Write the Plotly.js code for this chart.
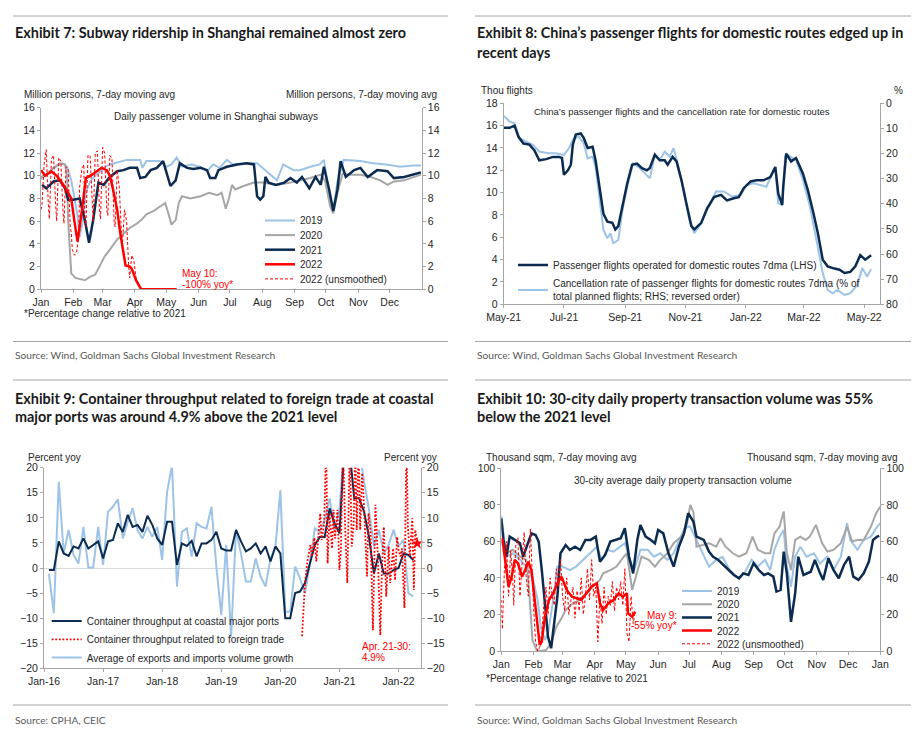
<!DOCTYPE html>
<html><head><meta charset="utf-8">
<script src="https://cdn.plot.ly/plotly-3.0.1.min.js"></script>
<style>html,body{margin:0;padding:0;background:#fff;}#chart{width:914px;height:741px;}</style>
</head><body><div id="chart"></div>
<script>
// ---------- Exhibit 7: Shanghai subway (million persons, 7dma), x = day of year ----------
const monthDays = [1,32,60,91,121,152,182,213,244,274,305,335];
const monthNames = ['Jan','Feb','Mar','Apr','May','Jun','Jul','Aug','Sep','Oct','Nov','Dec'];

const sub2019Day = [1,6,12,17,22,26,30,33,36,38,41,44,48,53,58,63,67,75,83,90,96,98,102,115,121,126,131,136,145,153,160,166,172,179,185,198,208,217,227,233,243,249,259,268,272,278,281,285,291,307,319,332,345,358,365];
const sub2019Val = [9.7,10.2,10.6,10.9,11.1,10.8,9.6,8.2,6.5,4.6,6.0,8.5,9.5,10.0,10.4,10.8,11.0,11.2,11.4,11.4,11.4,10.7,11.3,11.3,10.8,11.0,11.6,10.8,11.0,10.8,10.4,11.0,10.7,11.4,11.0,11.1,11.1,10.4,9.6,11.0,10.5,10.5,10.8,11.0,11.4,8.0,7.0,9.5,11.4,11.3,11.1,11.0,10.8,10.9,10.9];

const sub2020Day = [1,6,13,19,24,26,27,29,30,34,38,43,48,53,57,62,67,74,80,86,93,97,102,109,115,120,123,126,130,133,136,144,154,162,170,174,178,181,184,187,195,205,214,227,240,249,259,269,273,278,281,285,290,298,307,317,326,333,339,349,358,365];
const sub2020Val = [9.9,10.1,10.7,11.1,11.0,9.9,6.1,2.9,1.4,1.0,0.9,0.8,1.1,1.3,2.0,2.9,3.5,4.4,4.9,5.4,5.8,6.1,6.6,6.9,7.3,7.6,6.7,5.7,6.1,7.6,8.2,8.0,8.2,8.5,8.3,8.5,7.1,8.0,9.2,8.8,9.1,9.4,9.4,9.2,9.4,9.6,9.8,10.1,9.6,7.3,6.7,8.5,10.2,10.1,10.1,9.9,9.6,9.2,9.5,9.6,9.9,10.1];

const sub2021Day = [2,6,13,19,24,27,32,38,43,47,51,53,56,61,67,74,80,86,93,96,101,106,112,118,123,125,130,134,141,147,154,160,163,168,171,179,189,198,205,208,211,214,216,219,226,234,240,246,251,258,264,269,272,277,281,285,288,293,301,307,314,323,333,339,349,358,365];
const sub2021Val = [9.2,8.9,9.5,9.6,8.9,7.9,7.9,8.0,6.1,4.1,6.1,7.3,9.4,9.2,9.9,10.4,10.5,10.7,10.7,9.8,9.9,10.5,10.7,11.3,9.6,9.1,9.6,11.1,10.7,10.6,10.7,10.5,9.8,9.8,10.5,10.8,11.0,11.1,11.0,8.2,7.9,8.2,9.9,9.4,9.2,9.4,9.8,9.4,9.9,8.9,9.9,9.2,10.8,8.8,6.9,8.8,11.3,9.9,10.5,10.7,9.9,10.5,10.4,9.8,9.9,10.1,10.3];

const sub2022Day = [1,5,11,17,24,30,33,36,40,44,50,54,59,64,67,70,74,77,80,82,86,88,92,97,105,115,125,131];
const sub2022Val = [10.5,10.0,10.4,9.9,9.0,8.0,6.0,4.2,6.8,9.8,10.1,10.4,10.7,10.5,10.0,8.8,7.0,4.9,3.0,2.1,2.0,1.8,0.8,0,0,0,0,0];

const sub2022RawDay = [1,2,4,6,8,9,11,13,15,16,18,20,22,23,25,27,29,30,31,33,35,37,38,40,42,43,44,46,48,50,51,53,55,57,58,60,62,64,65,67,69,71,72,74,76,78,79,81,83,85,86,88,90,92,94,96,98];
const sub2022RawVal = [7.0,7.5,11.0,12.3,7.5,6.2,11.5,11.8,7.5,6.0,11.6,11.3,7.0,5.8,10.8,10.6,5.5,5.0,3.5,3.0,3.3,4.5,9.0,10.5,11.0,6.5,5.5,11.8,11.8,6.8,6.0,12.0,12.2,7.0,6.2,12.5,12.0,7.0,6.5,11.8,11.5,6.0,5.5,10.5,9.0,5.0,4.0,7.0,6.0,2.0,1.0,3.0,2.5,1.0,0.5,0.1,0];

// ---------- Exhibit 8: domestic flights (thousand) and cancellation rate (%) ----------
const flightTickVals = ['2021-05-01','2021-07-01','2021-09-01','2021-11-01','2022-01-01','2022-03-01','2022-05-01'];
const flightTickText = ['May-21','Jul-21','Sep-21','Nov-21','Jan-22','Mar-22','May-22'];

const flightDate = ['2021-05-01','2021-05-07','2021-05-12','2021-05-16','2021-05-21','2021-05-27','2021-06-01','2021-06-06','2021-06-13','2021-06-20','2021-06-26','2021-06-29','2021-07-01','2021-07-05','2021-07-08','2021-07-10','2021-07-13','2021-07-18','2021-07-21','2021-07-25','2021-07-30','2021-08-02','2021-08-07','2021-08-10','2021-08-14','2021-08-19','2021-08-22','2021-08-25','2021-08-29','2021-09-03','2021-09-08','2021-09-13','2021-09-18','2021-09-23','2021-09-26','2021-10-01','2021-10-06','2021-10-11','2021-10-14','2021-10-19','2021-10-23','2021-10-28','2021-11-02','2021-11-07','2021-11-10','2021-11-17','2021-11-23','2021-11-30','2021-12-07','2021-12-13','2021-12-20','2021-12-25','2021-12-30','2022-01-06','2022-01-12','2022-01-19','2022-01-26','2022-01-31','2022-02-03','2022-02-07','2022-02-08','2022-02-11','2022-02-16','2022-02-21','2022-02-28','2022-03-05','2022-03-10','2022-03-15','2022-03-20','2022-03-25','2022-04-01','2022-04-06','2022-04-11','2022-04-17','2022-04-22','2022-04-27','2022-05-02','2022-05-08'];
const flightVal = [15.8,15.8,16.0,15.0,14.4,14.3,13.8,12.9,13.0,13.2,13.2,13.1,11.6,12.0,12.5,14.3,15.2,15.3,14.9,14.0,14.1,12.9,9.9,8.1,7.4,7.3,6.7,7.0,8.7,10.8,12.5,12.6,12.2,12.0,12.2,13.4,12.9,12.9,12.5,13.2,12.8,11.1,9.0,7.0,6.7,7.3,8.6,9.6,9.8,9.3,9.5,9.6,10.4,11.0,11.1,11.1,11.4,12.3,9.9,8.9,10.5,13.5,12.8,13.1,11.7,10.2,8.4,6.4,4.0,3.4,3.2,3.1,2.8,2.9,3.4,4.4,4.0,4.4];

const cancelDate = ['2021-05-01','2021-05-07','2021-05-12','2021-05-17','2021-05-24','2021-05-31','2021-06-06','2021-06-15','2021-06-23','2021-07-01','2021-07-06','2021-07-11','2021-07-16','2021-07-21','2021-07-25','2021-07-30','2021-08-02','2021-08-07','2021-08-10','2021-08-14','2021-08-17','2021-08-20','2021-08-25','2021-08-29','2021-09-03','2021-09-09','2021-09-14','2021-09-21','2021-09-26','2021-10-01','2021-10-06','2021-10-11','2021-10-16','2021-10-20','2021-10-24','2021-10-31','2021-11-05','2021-11-10','2021-11-17','2021-11-23','2021-12-02','2021-12-10','2021-12-18','2021-12-27','2022-01-02','2022-01-09','2022-01-16','2022-01-22','2022-01-27','2022-01-31','2022-02-03','2022-02-07','2022-02-10','2022-02-13','2022-02-18','2022-02-21','2022-02-28','2022-03-07','2022-03-13','2022-03-20','2022-03-25','2022-03-30','2022-04-04','2022-04-11','2022-04-17','2022-04-24','2022-04-29','2022-05-04','2022-05-08'];
const cancelVal = [5.0,7.3,8.0,13.9,15.3,16.6,19.2,19.9,19.9,20.6,17.9,13.9,13.3,15.9,21.9,21.2,25.2,41.1,50.4,53.7,51.7,55.7,54.4,43.1,33.2,23.9,25.2,27.9,29.8,20.6,22.5,19.2,21.2,17.9,23.9,35.8,46.4,51.7,47.7,42.4,35.1,35.1,37.1,36.5,32.5,31.8,32.5,33.2,28.5,25.9,39.8,40.5,21.2,20.6,21.9,22.5,30.5,41.1,53.0,67.6,74.3,75.6,74.3,76.3,75.6,72.3,65.6,69.0,66.0];

// ---------- Exhibit 9: container throughput (% yoy), x = months since Jan-2016 ----------
const portTickVals = [0,12,24,36,48,60,72];
const portTickText = ['Jan-16','Jan-17','Jan-18','Jan-19','Jan-20','Jan-21','Jan-22'];
// monthly values Jan-2016 ... Mar-2022
const portCoastal = [-0.4,-0.4,5.3,2.9,2.4,4.3,3.9,5.9,3.9,4.6,5.3,1.9,5.3,5.6,8.9,7.2,10.6,8.2,8.6,7.2,10.4,8.6,5.9,4.6,9.2,9.2,0.6,4.9,4.4,5.4,2.3,4.9,4.9,5.6,7.2,3.9,3.5,3.5,7.6,5.3,3.3,3.9,4.9,2.9,4.3,1.3,4.3,2.9,-10,-10,-5,-4.7,-3,0.9,4.6,6.2,6.2,11.9,8.9,6.9,24,24,13.9,13.9,11.2,6.2,-1.1,2.9,-1.1,-1.1,-0.4,0,2.9,2.6,1.6];
const tradeVolume = [-1.1,-9,17.2,2.9,7.6,2.6,0.9,8.2,0.1,0.1,8.2,0.6,11.2,12.2,13.7,5.9,9.2,11.9,7.6,5.9,8.2,6.2,8.2,1.6,15.2,20.5,-3.7,7.2,7.9,2.3,8.9,8.2,7.9,12.2,0.3,-9.4,4.6,-13.7,7.6,2.9,-2.7,-2.7,1.9,-1.7,-3.7,1.9,4.3,15.5,-8.7,-8.7,0.3,-2.1,-5,0.9,7.9,7.2,9.6,13.9,7.6,11.6,25,30,28,24,17.2,11.6,4.3,7.6,2.9,4.6,7.6,4.3,5.6,-5,-5.7];
// ten-day data for foreign-trade related throughput
const foreignPos = [52.4,53.0,53.5,54.1,54.4,54.9,55.3,55.8,56.1,56.4,56.9,57.3,57.6,58.0,58.5,58.8,59.1,59.6,60.0,60.3,60.7,61.2,61.6,62.1,62.5,62.9,63.2,63.5,63.9,64.2,64.6,64.9,65.2,65.6,65.9,66.3,66.8,67.3,67.8,68.3,68.6,69.0,69.5,70.0,70.3,70.9,71.3,71.7,72.0,72.4,72.7,73.2,73.6,73.9,74.3,74.8,75.1,75.4,75.8];
const foreignVal = [-13.6,-3.0,1.3,4.6,2.3,6,1.3,7.6,10.9,5.6,8.9,25,0.9,10.9,3.9,11.6,5.9,11.6,-0.4,3.6,25,6.9,-3,25,4.3,8.9,25,7.6,25,7.6,18.9,14.2,5.6,-1.7,10.9,7.6,-12.4,12.6,2.3,-13.4,-1.1,8.2,-5.7,4.3,-3,3.9,-2.4,6.2,3.6,2.3,3.9,-8,25,8.2,2.3,9.9,-4.4,7.6,4.9];

// ---------- Exhibit 10: 30-city property transactions (thousand sqm, 7dma) ----------
const propTickVals = [1,32,60,91,121,152,182,213,244,274,305,335,366];
const propTickText = ['Jan','Feb','Mar','Apr','May','Jun','Jul','Aug','Sep','Oct','Nov','Dec','Jan'];

const prop2019Day = [1,6,12,19,25,31,36,39,43,46,51,55,60,67,73,80,86,93,98,103,109,116,120,125,129,135,142,148,154,161,167,174,180,183,189,195,201,208,214,221,229,235,242,248,255,260,264,269,273,276,280,284,289,295,302,308,315,321,328,334,337,344,350,357,363,366];
const prop2019Val = [74,51.6,53.5,49.9,46.2,40.7,27.9,13.3,6,9.7,27.9,46.2,46.2,44.3,46.2,49.9,53.5,57.1,49.9,55.4,54.4,57.1,59,49.9,44.3,55.4,55.4,51.6,53.5,49.9,53.5,62.6,68.1,68,60.8,53.5,46.2,49.9,51.6,44.3,39.8,42.5,49.9,46.2,49.9,44.3,55.4,62.6,66.2,46.2,35.3,51.6,57.1,51.6,53.5,47.9,51.6,44.3,51.6,69.9,60.8,55.4,60.8,62.6,68.1,69.9];

const prop2020Day = [1,6,12,19,25,28,31,35,39,44,49,54,58,63,70,76,83,89,96,99,106,112,119,122,127,132,136,143,149,154,161,167,174,180,183,186,189,195,201,208,212,217,224,230,237,243,248,255,260,264,269,273,276,280,284,289,294,298,304,310,315,321,328,334,339,344,350,357,362,366];
const prop2020Val = [60,53.5,55.4,51.6,49.9,31.6,6,0.5,0,0.5,4.2,13.3,16.9,22.4,26.1,27.9,31.6,35.3,38.9,42.5,44.3,46.2,51.6,53.5,33.4,44.3,51.6,49.9,46.2,49.9,53.5,59,62.6,69.9,80,76,57.1,58,59,57.1,61.7,57.1,53.5,51.6,53.5,62.6,55.4,53.5,53.5,64.4,68.1,76.4,53.5,44.3,60.8,62.6,60.8,62.6,69,59,54.4,55.4,59,68.1,59.9,60.8,60.8,68.1,75.4,79.1];

const prop2021Day = [1,3,6,9,14,19,22,26,30,34,37,40,43,46,49,51,55,58,63,67,72,77,82,87,92,96,101,106,111,116,120,124,128,132,135,140,145,149,152,157,162,167,172,177,181,186,189,196,201,205,210,215,220,225,230,234,239,244,249,254,258,263,266,270,273,276,280,284,287,292,299,303,308,311,316,321,326,331,336,340,345,350,355,359,363,365];
const prop2021Val = [72.6,60.8,51.6,62.6,60.8,59,51.6,58,64.4,63.5,59.9,44.3,24.3,7.8,1.5,11.5,29.7,53.5,58,55.3,57.1,55.3,60.8,60.8,62.6,48.9,52.6,59.9,60.8,61.7,67.2,51.6,42.5,60.8,69,62.6,60.8,59,66.2,64.4,53.5,46.2,57.1,64.4,75.4,70.8,62.6,60.8,54.4,51.6,49.8,47.1,44.3,41.6,39.8,42.5,41.6,48,44.3,41.6,42.5,40.7,32.5,33.4,54.4,42.5,16,31.6,51.6,41.6,43.4,49.8,42.5,38.9,50.7,44.3,39.8,47.1,51.6,40.7,38.9,42.5,48.9,60.8,62.6,63];

const prop2022Day = [2,5,8,11,14,17,21,24,27,30,33,36,38,40,43,47,51,55,59,64,69,74,78,83,88,93,96,99,104,109,114,118,122,123,127,130];
const prop2022Val = [61.7,49.9,35.3,40.7,49.9,48,40.7,44.3,48.9,44.3,27.9,13.3,3.3,5.1,18.8,27.9,31.6,37.1,40.7,33.4,29.7,28.8,27.9,31.6,35.3,37.1,26.1,22.4,26.1,27.9,31.6,29.7,31.6,20.6,18.8,21.5];

const prop2022RawDay = [1,2,4,6,8,10,12,13,15,17,19,21,23,25,27,29,30,32,34,36,38,40,42,44,46,48,50,52,54,56,58,60,62,64,66,68,70,72,74,76,78,80,82,84,86,88,90,92,94,96,98,100,102,104,106,108,110,112,114,116,118,120,122,124,126,128,130];
const prop2022RawVal = [28,12,45,60,30,55,40,25,58,62,30,45,65,40,30,67,50,25,5,0,2,10,25,35,20,40,30,25,45,35,50,30,22,40,20,28,35,18,33,22,40,20,30,45,28,50,30,35,5,30,15,35,20,30,25,38,22,35,28,38,25,45,10,5,30,15,22];

// ---------- colours ----------
const C19 = '#9dc3e6', C20 = '#a6a6a6', C21 = '#0c2b50', C22 = '#ff0000';

// ---------- traces ----------
const traces = [
  // Exhibit 7
  {x: sub2019Day, y: sub2019Val, name: '2019', xaxis: 'x', yaxis: 'y', legend: 'legend', line: {color: C19, width: 2}},
  {x: sub2020Day, y: sub2020Val, name: '2020', xaxis: 'x', yaxis: 'y', legend: 'legend', line: {color: C20, width: 2}},
  {x: sub2021Day, y: sub2021Val, name: '2021', xaxis: 'x', yaxis: 'y', legend: 'legend', line: {color: C21, width: 2.5}},
  {x: sub2022Day, y: sub2022Val, name: '2022', xaxis: 'x', yaxis: 'y', legend: 'legend', line: {color: C22, width: 2.5}},
  {x: sub2022RawDay, y: sub2022RawVal, name: '2022 (unsmoothed)', xaxis: 'x', yaxis: 'y2', legend: 'legend', line: {color: C22, width: 1, dash: '3px,2px'}},
  // Exhibit 8
  {x: cancelDate, y: cancelVal, name: 'Cancellation rate of passenger flights for domestic routes 7dma (% of<br>total planned flights; RHS; reversed order)', xaxis: 'x2', yaxis: 'y3', legend: 'legend2', legendrank: 2, line: {color: C19, width: 2}},
  {x: flightDate, y: flightVal, name: 'Passenger flights operated for domestic routes 7dma (LHS)', xaxis: 'x2', yaxis: 'y4', legend: 'legend2', legendrank: 1, line: {color: C21, width: 2.5}},
  // Exhibit 9
  {x: tradeVolume.map((v, i) => i + 1), y: tradeVolume, name: 'Average of exports and imports volume growth', xaxis: 'x3', yaxis: 'y5', legend: 'legend3', legendrank: 3, line: {color: C19, width: 2}},
  {x: portCoastal.map((v, i) => i + 1), y: portCoastal, name: 'Container throughput at coastal major ports', xaxis: 'x3', yaxis: 'y5', legend: 'legend3', legendrank: 1, line: {color: C21, width: 2}},
  {x: foreignPos, y: foreignVal, name: 'Container throughput related to foreign trade', xaxis: 'x3', yaxis: 'y6', legend: 'legend3', legendrank: 2, line: {color: C22, width: 1.8, dash: '1.8px,1.8px'}},
  {x: foreignPos.slice(-1), y: foreignVal.slice(-1), xaxis: 'x3', yaxis: 'y6', mode: 'markers', showlegend: false, marker: {symbol: 'star', size: 9, color: C22}, cliponaxis: false},
  // Exhibit 10
  {x: prop2019Day, y: prop2019Val, name: '2019', xaxis: 'x4', yaxis: 'y7', legend: 'legend4', line: {color: C19, width: 2}},
  {x: prop2020Day, y: prop2020Val, name: '2020', xaxis: 'x4', yaxis: 'y7', legend: 'legend4', line: {color: C20, width: 2}},
  {x: prop2021Day, y: prop2021Val, name: '2021', xaxis: 'x4', yaxis: 'y7', legend: 'legend4', line: {color: C21, width: 2.5}},
  {x: prop2022Day, y: prop2022Val, name: '2022', xaxis: 'x4', yaxis: 'y7', legend: 'legend4', line: {color: C22, width: 2.5}},
  {x: prop2022RawDay, y: prop2022RawVal, name: '2022 (unsmoothed)', xaxis: 'x4', yaxis: 'y8', legend: 'legend4', line: {color: C22, width: 1, dash: '3px,2px'}}
];
traces.forEach(t => { if (!t.mode) t.mode = 'lines'; t.hoverinfo = 'skip'; });

// ---------- layout helpers ----------
const W = 914, H = 741;
const px = v => v / W, py = v => 1 - v / H;
const TXT = '#262626';
const ax = (o) => Object.assign({
  showline: true, linecolor: '#a6a6a6', linewidth: 1, ticks: 'outside', ticklen: 3, tickcolor: '#a6a6a6',
  showgrid: false, zeroline: false, tickfont: {size: 10.5, color: TXT}, fixedrange: true
}, o);

function note(text, x, y, opt) {
  return Object.assign({text: text, xref: 'paper', yref: 'paper', x: px(x), y: py(y), showarrow: false,
    xanchor: 'left', yanchor: 'middle', font: {size: 10, color: TXT}}, opt || {});
}
const titleFont = {family: 'Lato, Liberation Sans, sans-serif', size: 14.4, color: '#1a1a1a', weight: 'bold'};
const srcFont = {family: 'Lato, Liberation Sans, sans-serif', size: 10.2, color: '#595959'};

const annotations = [
  note('Exhibit 7: Subway ridership in Shanghai remained almost zero', 13, 33, {font: titleFont}),
  note('Exhibit 8: China’s passenger flights for domestic routes edged up in', 475, 33, {font: titleFont}),
  note('recent days', 475, 52, {font: titleFont}),
  note('Exhibit 9: Container throughput related to foreign trade at coastal', 13, 398, {font: titleFont}),
  note('major ports was around 4.9% above the 2021 level', 13, 416.5, {font: titleFont}),
  note('Exhibit 10: 30-city daily property transaction volume was 55%', 475, 398, {font: titleFont}),
  note('below the 2021 level', 475, 416.5, {font: titleFont}),
  note('Source: Wind, Goldman Sachs Global Investment Research', 13, 355, {font: srcFont}),
  note('Source: Wind, Goldman Sachs Global Investment Research', 475, 355, {font: srcFont}),
  note('Source: CPHA, CEIC', 13, 720, {font: srcFont}),
  note('Source: Wind, Goldman Sachs Global Investment Research', 475, 720, {font: srcFont}),
  // unit labels
  note('Million persons, 7-day moving avg', 22, 95),
  note('Million persons, 7-day moving avg', 439, 95, {xanchor: 'right'}),
  note('Thou flights', 479, 91),
  note('%', 898, 91, {xanchor: 'center'}),
  note('Percent yoy', 26, 457),
  note('Percent yoy', 439, 457, {xanchor: 'right'}),
  note('Thousand sqm, 7-day moving avg', 484, 457),
  note('Thousand sqm, 7-day moving avg', 900, 457, {xanchor: 'right'}),
  // footnotes
  note('*Percentage change relative to 2021', 22, 313),
  note('*Percentage change relative to 2021', 484, 678),
  // in-chart titles
  note('Daily passenger volume in Shanghai subways', 216, 116.5, {xanchor: 'center'}),
  note('China’s passenger flights and the cancellation rate for domestic routes', 682, 111.5, {xanchor: 'center', font: {size: 9.5, color: TXT}}),
  note('30-city average daily property transaction volume', 683, 480, {xanchor: 'center'}),
  // red call-outs
  note('May 10:', 180, 273.5, {font: {size: 10, color: C22}}),
  note('-100% yoy*', 180, 284, {font: {size: 10, color: C22}}),
  note('Apr. 21-30:', 360, 646, {font: {size: 10, color: C22}}),
  note('4.9%', 360, 657, {font: {size: 10, color: C22}}),
  note('May 9:', 679, 615, {xanchor: 'right', font: {size: 10, color: C22}}),
  note('-55% yoy*', 679, 625.5, {xanchor: 'right', font: {size: 10, color: C22}})
];

const rule = (x0, x1, y) => ({type: 'line', xref: 'paper', yref: 'paper', x0: px(x0), x1: px(x1), y0: py(y), y1: py(y), line: {color: '#a6a6a6', width: 1}});
const shapes = [rule(13, 448, 16), rule(475, 911, 16), rule(13, 448, 341.5), rule(475, 911, 341.5),
                rule(13, 448, 380), rule(475, 911, 380), rule(13, 448, 705), rule(475, 911, 705)];

const legBase = (x, y) => ({x: px(x), y: py(y), xanchor: 'left', yanchor: 'top', bgcolor: 'rgba(0,0,0,0)',
  borderwidth: 0, font: {size: 10, color: TXT}, traceorder: 'normal', itemclick: false, itemdoubleclick: false});

const layout = {
  width: W, height: H, margin: {l: 0, r: 0, t: 0, b: 0},
  paper_bgcolor: '#ffffff', plot_bgcolor: 'rgba(0,0,0,0)',
  font: {family: 'Liberation Sans, Arial, sans-serif', size: 10, color: TXT},
  showlegend: true,
  // Exhibit 7
  xaxis: ax({domain: [px(41), px(421.7)], anchor: 'y', range: [1, 365.7], tickvals: monthDays, ticktext: monthNames}),
  yaxis: ax({domain: [1 - 289.3 / H, 1 - 107.7 / H], anchor: 'x', range: [0, 16], dtick: 2}),
  yaxis2: ax({overlaying: 'y', side: 'right', anchor: 'x', range: [0, 16], dtick: 2}),
  // Exhibit 8
  xaxis2: ax({domain: [px(503.7), px(880)], anchor: 'y3', type: 'date', range: ['2021-05-01', '2022-05-17'], tickvals: flightTickVals, ticktext: flightTickText}),
  yaxis3: ax({domain: [1 - 304.3 / H, 1 - 103.3 / H], anchor: 'x2', side: 'right', range: [80, 0], dtick: 10}),
  yaxis4: ax({overlaying: 'y3', side: 'left', anchor: 'x2', range: [0, 18], dtick: 2}),
  // Exhibit 9
  xaxis3: ax({domain: [px(44), px(420.7)], anchor: 'y5', range: [0, 76.5], tickvals: portTickVals, ticktext: portTickText}),
  yaxis5: ax({domain: [1 - 668.3 / H, 1 - 467.7 / H], anchor: 'x3', range: [-20, 20], dtick: 5, zeroline: true, zerolinecolor: '#d9d9d9', zerolinewidth: 1}),
  yaxis6: ax({overlaying: 'y5', side: 'right', anchor: 'x3', range: [-20, 20], dtick: 5}),
  // Exhibit 10
  xaxis4: ax({domain: [px(501.3), px(880.3)], anchor: 'y7', range: [1, 366], tickvals: propTickVals, ticktext: propTickText}),
  yaxis7: ax({domain: [1 - 651 / H, 1 - 468.3 / H], anchor: 'x4', range: [0, 100], dtick: 20}),
  yaxis8: ax({overlaying: 'y7', side: 'right', anchor: 'x4', range: [0, 100], dtick: 20}),
  legend: legBase(260, 206),
  legend2: legBase(513, 250.5),
  legend3: legBase(46.7, 606.5),
  legend4: legBase(677, 576.5),
  annotations: annotations,
  shapes: shapes
};

// tighter legend row spacing, as in the original exhibits
function squeeze(id, step) {
  const g = document.querySelector('g.' + id);
  if (!g) return;
  const items = Array.from(g.querySelectorAll('g.traces'));
  const pos = items.map(it => {
    const m = /translate\(\s*([-\d.]+)[ ,]+([-\d.]+)\s*\)/.exec(it.getAttribute('transform') || '');
    return m ? {it: it, x: +m[1], y: +m[2]} : null;
  }).filter(Boolean).sort((a, b) => a.y - b.y);
  if (!pos.length) return;
  pos.forEach((p, i) => p.it.setAttribute('transform', 'translate(' + p.x + ',' + (pos[0].y + i * step) + ')'));
}

Plotly.newPlot('chart', traces, layout, {displayModeBar: false, staticPlot: true}).then(() => {
  squeeze('legend', 14.6);
  squeeze('legend2', 25);
  squeeze('legend3', 18.3);
  squeeze('legend4', 13.2);
});
</script></body></html>
